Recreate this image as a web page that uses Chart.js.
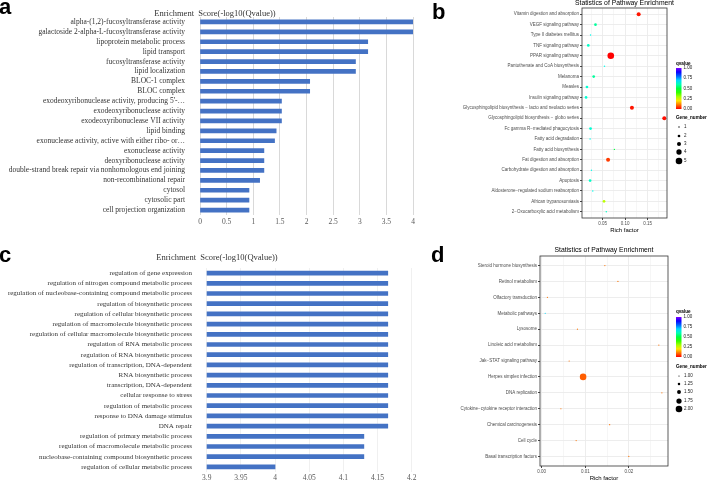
<!DOCTYPE html>
<html>
<head>
<meta charset="utf-8">
<script src="https://cdn.jsdelivr.net/npm/chart.js@4"></script>
<style>
  body { margin: 0; background: #fff; width: 708px; height: 483px; position: relative; overflow: hidden; }
  canvas { position: absolute; }
  .tag { position: absolute; z-index: 2; font: bold 22px "Liberation Sans", Arial, sans-serif; line-height: 1; color: #000; }
</style>
</head>
<body>
<div class="tag" style="left:-1px;top:-4px">a</div>
<div class="tag" style="left:432px;top:1px">b</div>
<div class="tag" style="left:-1px;top:244px">c</div>
<div class="tag" style="left:431px;top:244px">d</div>
<canvas id="chartA" width="420" height="245" style="left:0;top:0"></canvas>
<canvas id="chartB" width="288" height="245" style="left:420px;top:0"></canvas>
<canvas id="chartC" width="420" height="238" style="left:0;top:245px"></canvas>
<canvas id="chartD" width="288" height="238" style="left:420px;top:245px"></canvas>
<script>
// panel a - GO enrichment
const termsA = [
  "alpha-(1,2)-fucosyltransferase activity",
  "galactoside 2-alpha-L-fucosyltransferase activity",
  "lipoprotein metabolic process",
  "lipid transport",
  "fucosyltransferase activity",
  "lipid localization",
  "BLOC-1 complex",
  "BLOC complex",
  "exodeoxyribonuclease activity, producing 5'-…",
  "exodeoxyribonuclease activity",
  "exodeoxyribonuclease VII activity",
  "lipid binding",
  "exonuclease activity, active with either ribo- or…",
  "exonuclease activity",
  "deoxyribonuclease activity",
  "double-strand break repair via nonhomologous end joining",
  "non-recombinational repair",
  "cytosol",
  "cytosolic part",
  "cell projection organization"
];
const scoresA = [4.0, 4.0, 3.15, 3.15, 2.92, 2.92, 2.06, 2.06, 1.53, 1.53, 1.53, 1.43, 1.40, 1.20, 1.20, 1.20, 1.12, 0.92, 0.92, 0.92];
const ticksA = [0, 0.5, 1, 1.5, 2, 2.5, 3, 3.5, 4];

// panel c - GO enrichment
const termsC = [
  "regulation of gene expression",
  "regulation of nitrogen compound metabolic process",
  "regulation of nucleobase-containing compound metabolic process",
  "regulation of biosynthetic process",
  "regulation of cellular biosynthetic process",
  "regulation of macromolecule biosynthetic process",
  "regulation of cellular macromolecule biosynthetic process",
  "regulation of RNA metabolic process",
  "regulation of RNA biosynthetic process",
  "regulation of transcription, DNA-dependent",
  "RNA biosynthetic process",
  "transcription, DNA-dependent",
  "cellular response to stress",
  "regulation of metabolic process",
  "response to DNA damage stimulus",
  "DNA repair",
  "regulation of primary metabolic process",
  "regulation of macromolecule metabolic process",
  "nucleobase-containing compound biosynthetic process",
  "regulation of cellular metabolic process"
];
const scoresC = [4.165, 4.165, 4.165, 4.165, 4.165, 4.165, 4.165, 4.165, 4.165, 4.165, 4.165, 4.165, 4.165, 4.165, 4.165, 4.165, 4.13, 4.13, 4.13, 4.0];
const ticksC = [3.9, 3.95, 4, 4.05, 4.1, 4.15, 4.2];

// panel b - KEGG pathways
const pathwaysB = [
  "Vitamin digestion and absorption",
  "VEGF signaling pathway",
  "Type II diabetes mellitus",
  "TNF signaling pathway",
  "PPAR signaling pathway",
  "Pantothenate and CoA biosynthesis",
  "Melanoma",
  "Measles",
  "Insulin signaling pathway",
  "Glycosphingolipid biosynthesis − lacto and neolacto series",
  "Glycosphingolipid biosynthesis − globo series",
  "Fc gamma R−mediated phagocytosis",
  "Fatty acid degradation",
  "Fatty acid biosynthesis",
  "Fat digestion and absorption",
  "Carbohydrate digestion and absorption",
  "Apoptosis",
  "Aldosterone−regulated sodium reabsorption",
  "African trypanosomiasis",
  "2−Oxocarboxylic acid metabolism"
];
const richB = [0.130, 0.034, 0.023, 0.018, 0.068, 0.054, 0.030, 0.015, 0.013, 0.115, 0.187, 0.023, 0.022, 0.076, 0.062, 0.025, 0.022, 0.028, 0.053, 0.058];
const qvalB = [0.02, 0.58, 0.65, 0.62, 0.0, 0.65, 0.58, 0.63, 0.63, 0.02, 0.01, 0.63, 0.65, 0.5, 0.05, 0.65, 0.62, 0.65, 0.28, 0.62];
const genesB = [3, 2, 1, 2, 5, 1, 2, 2, 2, 3, 3, 2, 1, 1, 3, 1, 2, 1, 2, 1];
const richTicksB = [0.05, 0.10, 0.15];
const geneLegendB = [1, 2, 3, 4, 5];

// panel d - KEGG pathways
const pathwaysD = [
  "Steroid hormone biosynthesis",
  "Retinol metabolism",
  "Olfactory transduction",
  "Metabolic pathways",
  "Lysosome",
  "Linoleic acid metabolism",
  "Jak−STAT signaling pathway",
  "Herpes simplex infection",
  "DNA replication",
  "Cytokine−cytokine receptor interaction",
  "Chemical carcinogenesis",
  "Cell cycle",
  "Basal transcription factors"
];
const richD = [0.0145, 0.0175, 0.0013, 0.0008, 0.0082, 0.0269, 0.0063, 0.0095, 0.0276, 0.0044, 0.0156, 0.0079, 0.0200];
const qvalD = [0.1, 0.1, 0.1, 0.7, 0.1, 0.1, 0.1, 0.08, 0.1, 0.1, 0.1, 0.1, 0.1];
const genesD = [1, 1, 1, 1, 1, 1, 1, 2, 1, 1, 1, 1, 1];
const richTicksD = [0.00, 0.01, 0.02];
const geneLegendD = [1.00, 1.25, 1.50, 1.75, 2.00];

const qLegend = [1.00, 0.75, 0.50, 0.25, 0.00];

const SERIF = "'Liberation Serif', 'Times New Roman', serif";
const SANS = "'Liberation Sans', Arial, sans-serif";

function qColor(q) {
  return `hsl(${Math.round(q * 270)}, 100%, 50%)`;
}

// draws free text (titles) on top of a chart
function textPlugin(items) {
  return {
    id: 'texts',
    afterDraw(chart) {
      const c = chart.ctx;
      c.save();
      c.textBaseline = 'middle';
      items.forEach(t => {
        c.font = t.font;
        c.fillStyle = t.color || '#000';
        c.textAlign = t.align || 'center';
        c.fillText(t.text, t.x, t.y);
      });
      c.restore();
    }
  };
}

function barChart(id, labels, values, ticks, o) {
  new Chart(document.getElementById(id), {
    type: 'bar',
    data: {
      labels: labels,
      datasets: [{ data: values, backgroundColor: '#4472C4', barThickness: 4 }]
    },
    options: {
      indexAxis: 'y',
      responsive: false,
      animation: false,
      layout: { padding: o.padding },
      plugins: { legend: { display: false }, tooltip: { enabled: false } },
      scales: {
        y: {
          grid: { display: false },
          border: { display: false },
          ticks: { autoSkip: false, padding: o.labelPad, color: '#333', font: { family: SERIF, size: o.labelSize } },
          afterFit: s => { s.width = o.axisWidth; }
        },
        x: {
          min: ticks[0],
          max: ticks[ticks.length - 1],
          afterBuildTicks: s => { s.ticks = ticks.map(v => ({ value: v })); },
          grid: { color: o.gridColor, drawTicks: false },
          border: { display: false },
          ticks: {
            padding: o.tickPad, maxRotation: 0, autoSkip: false, color: '#595959',
            font: { family: SERIF, size: 7.5 },
            callback: v => String(+v.toFixed(2))
          },
          afterFit: s => { s.height = o.axisHeight; }
        }
      }
    },
    plugins: [textPlugin([{ text: 'Enrichment  Score(-log10(Qvalue))', x: o.titleX, y: o.titleY, font: `8.5px ${SERIF}`, color: '#333' }])]
  });
}

function dotChart(id, pathways, rich, qval, genes, o) {
  const gMin = Math.min(...o.geneLegend), gMax = Math.max(...o.geneLegend);
  const radius = g => o.rMin + (g - gMin) / (gMax - gMin) * (o.rMax - o.rMin);
  const isMajor = v => o.richTicks.some(t => Math.abs(t - v) < 1e-9);
  const points = rich.map((x, i) => ({ x: x, y: i, r: radius(genes[i]) }));

  const legend = {
    id: 'panelLegend',
    afterDraw(chart) {
      const c = chart.ctx, a = chart.chartArea, L = o.legend;
      c.save();
      // panel border
      c.strokeStyle = '#333';
      c.lineWidth = 0.8;
      c.strokeRect(a.left, a.top, a.right - a.left, a.bottom - a.top);
      // qvalue colour bar
      c.textBaseline = 'middle';
      c.textAlign = 'left';
      c.fillStyle = '#000';
      c.font = `bold 4.6px ${SANS}`;
      c.fillText('qvalue', L.x, L.qTitleY);
      const g = c.createLinearGradient(0, L.barBottom, 0, L.barTop);
      for (let q = 0; q <= 1.0001; q += 0.1) g.addColorStop(Math.min(q, 1), qColor(q));
      c.fillStyle = g;
      c.fillRect(L.x, L.barTop, 5.5, L.barBottom - L.barTop);
      c.font = `4.5px ${SANS}`;
      c.fillStyle = '#222';
      qLegend.forEach(q => {
        const y = L.barBottom - q * (L.barBottom - L.barTop);
        c.fillText(q.toFixed(2), L.x + 7.5, y);
      });
      // gene number sizes
      c.font = `bold 4.6px ${SANS}`;
      c.fillStyle = '#000';
      c.fillText('Gene_number', L.x, L.geneTitleY);
      c.font = `4.5px ${SANS}`;
      o.geneLegend.forEach((gn, i) => {
        const y = L.geneY[i];
        c.fillStyle = '#000';
        c.beginPath();
        c.arc(L.x + 3, y, radius(gn), 0, Math.PI * 2);
        c.fill();
        c.fillStyle = '#222';
        c.fillText(o.geneLabel(gn), L.x + 8, y);
      });
      c.restore();
    }
  };

  new Chart(document.getElementById(id), {
    type: 'bubble',
    data: {
      datasets: [{ data: points, backgroundColor: qval.map(qColor), borderWidth: 0, hoverRadius: 0 }]
    },
    options: {
      responsive: false,
      animation: false,
      layout: { padding: o.padding },
      plugins: { legend: { display: false }, tooltip: { enabled: false } },
      scales: {
        x: {
          type: 'linear',
          min: o.xMin,
          max: o.xMax,
          afterBuildTicks: s => { s.ticks = o.gridX.map(v => ({ value: v })); },
          grid: {
            color: '#ebebeb',
            lineWidth: ctx => isMajor(ctx.tick.value) ? 0.9 : 0.45,
            tickLength: 2,
            tickColor: ctx => isMajor(ctx.tick.value) ? '#333' : 'rgba(0,0,0,0)'
          },
          border: { display: false },
          ticks: {
            padding: 1, maxRotation: 0, autoSkip: false, color: '#4d4d4d',
            font: { family: SANS, size: 4.5 },
            callback: v => isMajor(v) ? v.toFixed(2) : ''
          },
          afterFit: s => { s.height = o.xAxisHeight; }
        },
        y: {
          type: 'linear',
          reverse: true,
          min: -0.6,
          max: pathways.length - 0.4,
          afterBuildTicks: s => { s.ticks = pathways.map((p, i) => ({ value: i })); },
          grid: { color: '#ebebeb', lineWidth: 0.9, tickLength: 2, tickColor: '#333' },
          border: { display: false },
          ticks: {
            autoSkip: false, padding: 1, color: '#4d4d4d',
            font: { family: SANS, size: 4.5 },
            callback: v => pathways[v]
          },
          afterFit: s => { s.width = o.yAxisWidth; }
        }
      }
    },
    plugins: [legend, textPlugin([
      { text: 'Statistics of Pathway Enrichment', x: o.titleX, y: o.titleY, font: `6.8px ${SANS}` },
      { text: 'Rich factor', x: o.titleX, y: o.axisTitleY, font: `6px ${SANS}` }
    ])]
  });
}

barChart('chartA', termsA, scoresA, ticksA, {
  padding: { left: 0, right: 7, top: 17, bottom: 18 },
  axisWidth: 200, axisHeight: 12, labelPad: 7, labelSize: 7.5, tickPad: 3,
  gridColor: '#d9d9d9', titleX: 215, titleY: 14
});

barChart('chartC', termsC, scoresC, ticksC, {
  padding: { left: 0, right: 8.3, top: 23, bottom: 2 },
  axisWidth: 206.7, axisHeight: 9, labelPad: 6.7, labelSize: 7, tickPad: 2,
  gridColor: '#f0f0f0', titleX: 217, titleY: 13
});

dotChart('chartB', pathwaysB, richB, qvalB, genesB, {
  padding: { left: 0, right: 41, top: 8, bottom: 5 },
  yAxisWidth: 162, xAxisHeight: 22,
  xMin: 0.004, xMax: 0.193,
  gridX: [0.025, 0.05, 0.075, 0.10, 0.125, 0.15, 0.175],
  richTicks: richTicksB,
  geneLegend: geneLegendB, geneLabel: g => String(g),
  rMin: 0.7, rMax: 3.3,
  titleX: 204.5, titleY: 3, axisTitleY: 230,
  legend: { x: 256, qTitleY: 64, barTop: 68, barBottom: 109, geneTitleY: 118, geneY: [127, 136, 144, 152, 161] }
});

dotChart('chartD', pathwaysD, richD, qvalD, genesD, {
  padding: { left: 0, right: 40, top: 11, bottom: 5 },
  yAxisWidth: 120, xAxisHeight: 12,
  xMin: -0.0004, xMax: 0.029,
  gridX: [0, 0.005, 0.01, 0.015, 0.02, 0.025],
  richTicks: richTicksD,
  geneLegend: geneLegendD, geneLabel: g => g.toFixed(2),
  rMin: 0.6, rMax: 3.3,
  titleX: 184, titleY: 5.5, axisTitleY: 233,
  legend: { x: 256, qTitleY: 67, barTop: 72, barBottom: 112, geneTitleY: 122, geneY: [131, 139, 147, 156, 164] }
});
</script>
</body>
</html>
